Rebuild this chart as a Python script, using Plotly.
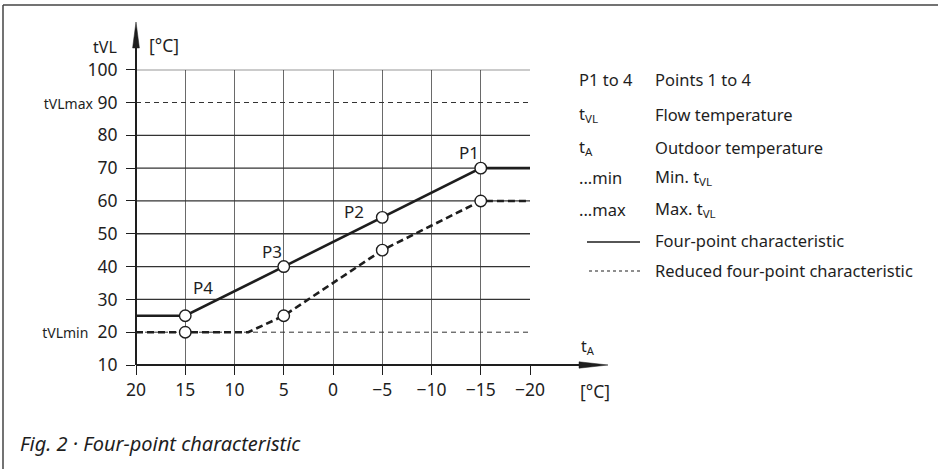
import plotly.graph_objects as go

# ---------------- data ----------------
x_ticks = [20, 15, 10, 5, 0, -5, -10, -15, -20]
x_tick_labels = ["20", "15", "10", "5", "0", "\u22125", "\u221210", "\u221215", "\u221220"]
y_ticks = [10, 20, 30, 40, 50, 60, 70, 80, 90, 100]
y_tick_labels = ["10", "<span style='font-size:14px'>tVLmin</span>  20", "30", "40", "50", "60",
                 "70", "80", "<span style='font-size:14px'>tVLmax</span> 90", "100"]
solid_grid = [30, 40, 50, 60, 70, 80, 100]
dashed_grid = [20, 90]

four_x = [20, 15, 5, -5, -15, -20]
four_y = [25, 25, 40, 55, 70, 70]
red_x = [20, 15, 8.6, 5, -5, -15, -20]
red_y = [20, 20, 20, 25, 45, 60, 60]
pt_x = [15, 5, -5, -15]
four_pt_y = [25, 40, 55, 70]
red_pt_y = [20, 25, 45, 60]
pt_labels = ["P4", "P3", "P2", "P1"]

legend_keys = ["P1 to 4", "t<sub>VL</sub>", "t<sub>A</sub>", "...min", "...max"]
legend_desc = ["Points 1 to 4", "Flow temperature", "Outdoor temperature",
               "Min. t<sub>VL</sub>", "Max. t<sub>VL</sub>",
               "Four-point characteristic", "Reduced four-point characteristic"]
caption = "Fig. 2 \u00b7 Four-point characteristic"

# ---------------- layout helpers ----------------
W, H = 938, 469
FONT = "Noto Sans"
INK = "#1e1e1e"


def px(x):
    return x / W


def py(y):
    return 1 - y / H


GX0, GX1 = 136, 530
GY0, GY1 = 365, 69.7

fig = go.Figure()

fig.add_trace(go.Scatter(x=four_x, y=four_y, mode="lines",
                         line=dict(color=INK, width=2.6), hoverinfo="skip"))
fig.add_trace(go.Scatter(x=red_x, y=red_y, mode="lines",
                         line=dict(color=INK, width=2.6, dash="7px,4px"), hoverinfo="skip"))
fig.add_trace(go.Scatter(x=pt_x + pt_x, y=four_pt_y + red_pt_y, mode="markers",
                         marker=dict(size=11.5, color="white", line=dict(color=INK, width=1.4)),
                         cliponaxis=False, hoverinfo="skip"))

shapes = []
for v in solid_grid:
    shapes.append(dict(type="line", xref="x", yref="y", x0=20, x1=-20, y0=v, y1=v,
                       line=dict(color="#333", width=1.3), layer="between"))
for v in dashed_grid:
    shapes.append(dict(type="line", xref="x", yref="y", x0=20, x1=-20, y0=v, y1=v,
                       line=dict(color="#333", width=1.0, dash="5px,4px"), layer="between"))

# axes with arrows
shapes.append(dict(type="line", xref="paper", yref="paper", x0=px(GX0), x1=px(GX0),
                   y0=py(GY0), y1=py(45), line=dict(color=INK, width=2)))
shapes.append(dict(type="path", xref="paper", yref="paper",
                   path=f"M {px(136)},{py(22)} L {px(132.6)},{py(48)} L {px(139.4)},{py(48)} Z",
                   fillcolor=INK, line=dict(color=INK, width=0.5)))
shapes.append(dict(type="line", xref="paper", yref="paper", x0=px(GX0), x1=px(582),
                   y0=py(GY0), y1=py(GY0), line=dict(color=INK, width=2)))
shapes.append(dict(type="path", xref="paper", yref="paper",
                   path=f"M {px(608)},{py(365)} L {px(579)},{py(361.8)} L {px(579)},{py(368.2)} Z",
                   fillcolor=INK, line=dict(color=INK, width=0.5)))

# outer frame (top + left)
shapes.append(dict(type="line", xref="paper", yref="paper", x0=px(3), x1=1,
                   y0=py(5), y1=py(5), line=dict(color="#444", width=1.5)))
shapes.append(dict(type="line", xref="paper", yref="paper", x0=px(3), x1=px(3),
                   y0=py(5), y1=0, line=dict(color="#444", width=1.5)))

# legend line samples
shapes.append(dict(type="line", xref="paper", yref="paper", x0=px(587), x1=px(640),
                   y0=py(242), y1=py(242), line=dict(color=INK, width=1.4)))
shapes.append(dict(type="line", xref="paper", yref="paper", x0=px(589), x1=px(640),
                   y0=py(271), y1=py(271), line=dict(color=INK, width=1.2, dash="3px,3px")))

ann = []
# point labels
shifts = {"P1": (-12, 16), "P2": (-28, 6), "P3": (-12, 15), "P4": (18, 28)}
for xv, yv, lab in zip(pt_x, four_pt_y, pt_labels):
    sx, sy = shifts[lab]
    ann.append(dict(x=xv, y=yv, xref="x", yref="y", text=lab, showarrow=False,
                    xshift=sx, yshift=sy, font=dict(size=17, color=INK, family=FONT)))

# axis titles
ann.append(dict(x=px(119), y=py(47), xref="paper", yref="paper", text="tVL", showarrow=False,
                xanchor="right", yanchor="middle", font=dict(size=16, color=INK, family=FONT)))
ann.append(dict(x=px(147), y=py(45), xref="paper", yref="paper", text="[\u00b0C]", showarrow=False,
                xanchor="left", yanchor="middle", font=dict(size=17.5, color=INK, family=FONT)))
ann.append(dict(x=px(579), y=py(346), xref="paper", yref="paper", text="t<sub>A</sub>", showarrow=False,
                xanchor="left", yanchor="middle", font=dict(size=16, color=INK, family=FONT)))
ann.append(dict(x=px(578), y=py(391), xref="paper", yref="paper", text="[\u00b0C]", showarrow=False,
                xanchor="left", yanchor="middle", font=dict(size=17.5, color=INK, family=FONT)))

# legend text
rows = [80, 114, 147, 177, 209, 241, 270]
for i, k in enumerate(legend_keys):
    ann.append(dict(x=px(577), y=py(rows[i]), xref="paper", yref="paper", text=k,
                    showarrow=False, xanchor="left", yanchor="middle",
                    font=dict(size=16.5, color=INK, family=FONT)))
for i, d in enumerate(legend_desc):
    ann.append(dict(x=px(653), y=py(rows[i]), xref="paper", yref="paper", text=d,
                    showarrow=False, xanchor="left", yanchor="middle",
                    font=dict(size=16.5, color=INK, family=FONT)))

# caption
ann.append(dict(x=px(18), y=py(443), xref="paper", yref="paper",
                text=f"<i>{caption}</i>", showarrow=False, xanchor="left", yanchor="middle",
                font=dict(size=20, color=INK, family=FONT)))

fig.update_layout(
    width=W, height=H,
    margin=dict(l=0, r=0, t=0, b=0, pad=0, autoexpand=False),
    paper_bgcolor="white", plot_bgcolor="white",
    showlegend=False,
    shapes=shapes, annotations=ann,
    xaxis=dict(domain=[px(GX0), px(GX1)], range=[20, -20], tickvals=x_ticks,
               ticktext=x_tick_labels, ticks="outside", ticklen=9, tickwidth=1.3,
               tickcolor=INK, showgrid=True, gridcolor="#6a6a6a", gridwidth=1.2,
               zeroline=False, showline=False, fixedrange=True, automargin=False,
               tickfont=dict(size=17.5, color=INK, family=FONT)),
    yaxis=dict(domain=[1 - GY0 / H, 1 - GY1 / H], range=[10, 100], tickvals=y_ticks,
               ticktext=y_tick_labels, ticks="outside", ticklen=9, tickwidth=1.3,
               tickcolor=INK, showgrid=False, zeroline=False, showline=False,
               fixedrange=True, automargin=False, ticklabelstandoff=5,
               tickfont=dict(size=17.5, color=INK, family=FONT)),
)

fig.write_html("out.html", config={"displayModeBar": False},
               post_script="document.body.style.margin='0';document.body.style.overflow='hidden';")
